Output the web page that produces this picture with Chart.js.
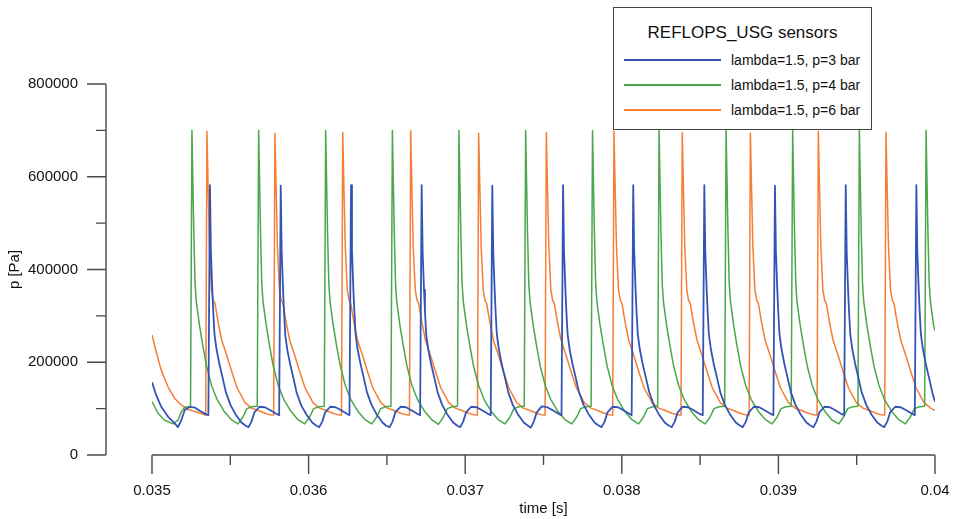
<!DOCTYPE html>
<html>
<head>
<meta charset="utf-8">
<script src="https://cdn.jsdelivr.net/npm/chart.js@4.4.1/dist/chart.umd.min.js"></script>
<style>
html,body{margin:0;padding:0;background:#fff;overflow:hidden;}
#wrap{position:relative;width:957px;height:519px;}
#c{display:block;}
#legend{position:absolute;left:613px;top:7px;width:257px;height:121px;border:1.5px solid #444;background:#fff;
  font-family:"Liberation Sans",Arial,Helvetica,sans-serif;color:#111;z-index:2;}
#legend .ttl{position:absolute;left:0;width:100%;top:13px;height:24px;line-height:24px;text-align:center;font-size:17px;}
#legend .row{position:absolute;left:0;width:100%;height:18px;}
#legend .sw{position:absolute;left:10px;width:97px;top:8px;height:1.5px;}
#legend .lb{position:absolute;left:117px;top:0;height:18px;line-height:18px;font-size:14px;white-space:nowrap;}
</style>
</head>
<body>
<div id="wrap">
  <canvas id="c"></canvas>
  <div id="legend"></div>
</div>
<script>
// ---------------- data (time in s, pressure in Pa) ----------------
const seriesLabels = ['lambda=1.5, p=3 bar', 'lambda=1.5, p=4 bar', 'lambda=1.5, p=6 bar'];
const legendTitle = 'REFLOPS_USG sensors';

const blueT = [
0.035000,0.035027,0.035059,0.035102,0.035145,0.035166,0.035187,0.035209,0.035241,0.035275,0.035307,0.035349,
0.035360,0.035370,0.035376,0.035385,0.035391,0.035399,0.035412,0.035431,0.035450,0.035472,0.035501,0.035533,0.035571,0.035594,0.035616,0.035635,0.035654,0.035686,0.035721,0.035753,0.035798,
0.035812,0.035822,0.035828,0.035837,0.035843,0.035851,0.035864,0.035883,0.035902,0.035924,0.035953,0.035985,0.036023,0.036046,0.036068,0.036087,0.036106,0.036138,0.036173,0.036205,0.036250,
0.036261,0.036271,0.036277,0.036286,0.036292,0.036300,0.036313,0.036332,0.036351,0.036373,0.036402,0.036434,0.036472,0.036495,0.036517,0.036536,0.036555,0.036587,0.036622,0.036654,0.036699,
0.036712,0.036722,0.036728,0.036737,0.036743,0.036751,0.036764,0.036783,0.036802,0.036824,0.036853,0.036885,0.036923,0.036946,0.036968,0.036987,0.037006,0.037038,0.037073,0.037105,0.037150,
0.037163,0.037173,0.037179,0.037188,0.037194,0.037202,0.037215,0.037234,0.037253,0.037275,0.037304,0.037336,0.037374,0.037397,0.037419,0.037438,0.037457,0.037489,0.037524,0.037556,0.037601,
0.037615,0.037625,0.037631,0.037640,0.037646,0.037654,0.037667,0.037686,0.037705,0.037727,0.037756,0.037788,0.037826,0.037849,0.037871,0.037890,0.037909,0.037941,0.037976,0.038008,0.038053,
0.038063,0.038073,0.038079,0.038088,0.038094,0.038102,0.038115,0.038134,0.038153,0.038175,0.038204,0.038236,0.038274,0.038297,0.038319,0.038338,0.038357,0.038389,0.038424,0.038456,0.038501,
0.038517,0.038527,0.038533,0.038542,0.038548,0.038556,0.038569,0.038588,0.038607,0.038629,0.038658,0.038690,0.038728,0.038751,0.038773,0.038792,0.038811,0.038843,0.038878,0.038910,0.038955,
0.038968,0.038978,0.038984,0.038993,0.038999,0.039007,0.039020,0.039039,0.039058,0.039080,0.039109,0.039141,0.039179,0.039202,0.039224,0.039243,0.039262,0.039294,0.039329,0.039361,0.039406,
0.039420,0.039430,0.039436,0.039445,0.039451,0.039459,0.039472,0.039491,0.039510,0.039532,0.039561,0.039593,0.039631,0.039654,0.039676,0.039695,0.039714,0.039746,0.039781,0.039813,0.039858,
0.039871,0.039881,0.039887,0.039896,0.039902,0.039910,0.039923,0.039942,0.039961,0.039983,0.040000
];
const blueP = [
157000,129000,104000,83000,68000,60000,75000,97000,104000,102000,95000,87000,
86000,582000,440000,356000,310000,260000,228000,195000,168000,135000,108000,88000,70000,64000,60000,72000,92000,104000,103000,97000,88000,
86000,581000,440000,355000,310000,258000,227000,195000,167000,134000,107000,88000,70000,64000,60000,72000,92000,104000,103000,97000,88000,
86000,582000,441000,356000,311000,260000,228000,196000,168000,135000,108000,88000,70000,63000,60000,72000,93000,104000,103000,97000,88000,
86000,582000,440000,356000,310000,259000,228000,195000,168000,135000,108000,88000,70000,64000,60000,72000,92000,104000,103000,97000,88000,
86000,581000,440000,356000,310000,260000,228000,195000,168000,135000,108000,88000,70000,64000,59000,72000,92000,105000,103000,97000,88000,
86000,582000,440000,356000,310000,260000,227000,195000,168000,135000,108000,88000,70000,64000,60000,72000,92000,104000,103000,97000,88000,
86000,582000,440000,356000,310000,260000,228000,195000,168000,136000,108000,88000,70000,64000,60000,72000,92000,104000,103000,97000,88000,
86000,582000,440000,356000,310000,260000,228000,195000,168000,135000,108000,88000,70000,64000,60000,72000,92000,104000,103000,97000,88000,
86000,581000,440000,356000,310000,260000,228000,195000,168000,135000,108000,88000,70000,64000,60000,72000,92000,104000,103000,97000,88000,
86000,582000,440000,356000,310000,260000,228000,195000,168000,135000,108000,88000,70000,64000,60000,72000,92000,104000,103000,97000,88000,
86000,582000,440000,356000,310000,260000,228000,195000,168000,135000,115000
];

const greenT = [
0.035000,0.035038,0.035081,0.035134,0.035166,0.035187,0.035209,0.035241,
0.035246,0.035255,0.035267,0.035275,0.035283,0.035303,0.035325,0.035348,0.035380,0.035415,0.035459,0.035504,0.035549,0.035581,0.035606,0.035638,
0.035672,0.035681,0.035693,0.035701,0.035709,0.035729,0.035751,0.035774,0.035806,0.035841,0.035885,0.035930,0.035975,0.036007,0.036032,0.036064,
0.036100,0.036109,0.036121,0.036129,0.036137,0.036157,0.036179,0.036202,0.036234,0.036269,0.036313,0.036358,0.036403,0.036435,0.036460,0.036492,
0.036526,0.036535,0.036547,0.036555,0.036563,0.036583,0.036605,0.036628,0.036660,0.036695,0.036739,0.036784,0.036829,0.036861,0.036886,0.036918,
0.036951,0.036960,0.036972,0.036980,0.036988,0.037008,0.037030,0.037053,0.037085,0.037120,0.037164,0.037209,0.037254,0.037286,0.037311,0.037343,
0.037377,0.037386,0.037398,0.037406,0.037414,0.037434,0.037456,0.037479,0.037511,0.037546,0.037590,0.037635,0.037680,0.037712,0.037737,0.037769,
0.037804,0.037813,0.037825,0.037833,0.037841,0.037861,0.037883,0.037906,0.037938,0.037973,0.038017,0.038062,0.038107,0.038139,0.038164,0.038196,
0.038229,0.038238,0.038250,0.038258,0.038266,0.038286,0.038308,0.038331,0.038363,0.038398,0.038442,0.038487,0.038532,0.038564,0.038589,0.038621,
0.038657,0.038666,0.038678,0.038686,0.038694,0.038714,0.038736,0.038759,0.038791,0.038826,0.038870,0.038915,0.038960,0.038992,0.039017,0.039049,
0.039082,0.039091,0.039103,0.039111,0.039119,0.039139,0.039161,0.039184,0.039216,0.039251,0.039295,0.039340,0.039385,0.039417,0.039442,0.039474,
0.039508,0.039517,0.039529,0.039537,0.039545,0.039565,0.039587,0.039610,0.039642,0.039677,0.039721,0.039766,0.039811,0.039843,0.039868,0.039900,
0.039934,0.039943,0.039955,0.039963,0.039971,0.039991,0.040000
];
const greenP = [
115000,90000,75000,67000,75000,93000,103000,104000,
105000,700000,480000,370000,330000,280000,235000,192000,150000,120000,95000,77000,67000,82000,100000,104000,
105000,700000,480000,370000,330000,281000,235000,192000,150000,120000,95000,77000,67000,82000,100000,104000,
105000,700000,480000,371000,330000,280000,235000,193000,150000,120000,95000,77000,67000,82000,100000,104000,
105000,700000,480000,370000,330000,280000,235000,192000,150000,120000,95000,77000,66000,82000,100000,104000,
105000,700000,481000,370000,330000,280000,235000,192000,151000,120000,95000,77000,67000,82000,100000,104000,
105000,700000,480000,370000,330000,280000,235000,192000,150000,120000,95000,77000,67000,82000,100000,104000,
105000,700000,480000,370000,330000,280000,236000,192000,150000,120000,95000,77000,67000,82000,100000,104000,
105000,700000,480000,370000,330000,280000,235000,192000,150000,120000,95000,77000,67000,82000,100000,104000,
105000,700000,480000,370000,331000,280000,235000,192000,150000,120000,95000,77000,67000,82000,100000,104000,
105000,700000,480000,370000,330000,280000,235000,192000,150000,120000,95000,76000,67000,82000,100000,104000,
105000,700000,480000,370000,330000,280000,235000,192000,150000,120000,95000,77000,67000,82000,100000,104000,
105000,700000,480000,370000,330000,280000,268000
];

const orangeT = [
0.035000,0.035027,0.035059,0.035102,0.035145,0.035187,0.035230,0.035290,
0.035343,0.035351,0.035357,0.035367,0.035380,0.035391,0.035402,0.035423,0.035445,0.035477,0.035509,0.035543,0.035594,0.035636,0.035679,0.035721,0.035751,
0.035777,0.035785,0.035791,0.035801,0.035814,0.035825,0.035836,0.035857,0.035879,0.035911,0.035943,0.035977,0.036028,0.036070,0.036113,0.036155,0.036185,
0.036210,0.036218,0.036224,0.036234,0.036247,0.036258,0.036269,0.036290,0.036312,0.036344,0.036376,0.036410,0.036461,0.036503,0.036546,0.036588,0.036618,
0.036644,0.036652,0.036658,0.036668,0.036681,0.036692,0.036703,0.036724,0.036746,0.036778,0.036810,0.036844,0.036895,0.036937,0.036980,0.037022,0.037052,
0.037078,0.037086,0.037092,0.037102,0.037115,0.037126,0.037137,0.037158,0.037180,0.037212,0.037244,0.037278,0.037329,0.037371,0.037414,0.037456,0.037486,
0.037510,0.037518,0.037524,0.037534,0.037547,0.037558,0.037569,0.037590,0.037612,0.037644,0.037676,0.037710,0.037761,0.037803,0.037846,0.037888,0.037918,
0.037942,0.037950,0.037956,0.037966,0.037979,0.037990,0.038001,0.038022,0.038044,0.038076,0.038108,0.038142,0.038193,0.038235,0.038278,0.038320,0.038350,
0.038378,0.038386,0.038392,0.038402,0.038415,0.038426,0.038437,0.038458,0.038480,0.038512,0.038544,0.038578,0.038629,0.038671,0.038714,0.038756,0.038786,
0.038813,0.038821,0.038827,0.038837,0.038850,0.038861,0.038872,0.038893,0.038915,0.038947,0.038979,0.039013,0.039064,0.039106,0.039149,0.039191,0.039221,
0.039247,0.039255,0.039261,0.039271,0.039284,0.039295,0.039306,0.039327,0.039349,0.039381,0.039413,0.039447,0.039498,0.039540,0.039583,0.039625,0.039655,
0.039679,0.039687,0.039693,0.039703,0.039716,0.039727,0.039738,0.039759,0.039781,0.039813,0.039845,0.039879,0.039930,0.039972,0.040000
];
const orangeP = [
259000,222000,183000,147000,122000,108000,98000,92000,
86000,698000,600000,450000,356000,334000,327000,285000,248000,215000,180000,145000,113000,101000,96000,90000,87000,
86000,694000,600000,450000,356000,334000,327000,285000,248000,215000,180000,145000,113000,101000,96000,90000,87000,
86000,696000,600000,450000,356000,334000,327000,285000,248000,215000,180000,145000,113000,101000,96000,90000,87000,
86000,699000,600000,450000,356000,334000,327000,285000,248000,215000,180000,145000,113000,101000,96000,90000,87000,
86000,694000,600000,450000,356000,334000,327000,285000,248000,215000,180000,145000,113000,101000,96000,90000,87000,
86000,695000,600000,450000,356000,334000,327000,285000,248000,215000,180000,145000,113000,101000,96000,90000,87000,
86000,698000,600000,450000,356000,334000,327000,285000,248000,215000,180000,145000,113000,101000,96000,90000,87000,
86000,695000,600000,450000,356000,334000,327000,285000,248000,215000,180000,145000,113000,101000,96000,90000,87000,
86000,694000,600000,450000,356000,334000,327000,285000,248000,215000,180000,145000,113000,101000,96000,90000,87000,
86000,698000,600000,450000,356000,334000,327000,285000,248000,215000,180000,145000,113000,101000,96000,90000,87000,
86000,696000,600000,450000,356000,334000,327000,285000,248000,215000,180000,145000,113000,101000,96000
];

const xMajorTicks = [0.035, 0.036, 0.037, 0.038, 0.039, 0.040];
const xMinorTicks = [0.0355, 0.0365, 0.0375, 0.0385, 0.0395];
const xTickLabels = ['0.035', '0.036', '0.037', '0.038', '0.039', '0.04'];
const yMajorTicks = [0, 200000, 400000, 600000, 800000];
const yMinorTicks = [100000, 300000, 500000, 700000];
const yTickLabels = ['0', '200000', '400000', '600000', '800000'];
const xTitle = 'time [s]';
const yTitle = 'p [Pa]';

// ---------------- build ----------------
function pts(t, p) {
  const n = Math.min(t.length, p.length);
  const out = [];
  for (let i = 0; i < n; i++) out.push({x: t[i], y: p[i]});
  return out;
}
const colors = ['#3354b6', '#4aa74a', '#f67e34'];
const widths = [1.8, 1.5, 1.5];

const FONT = '"Liberation Sans", Arial, Helvetica, sans-serif';
Chart.defaults.font.family = FONT;
Chart.defaults.font.size = 15;
Chart.defaults.color = '#111';

const axesPlugin = {
  id: 'offsetAxes',
  afterDraw(chart) {
    const c = chart.ctx, xs = chart.scales.x, ys = chart.scales.y;
    c.save();
    c.strokeStyle = '#4a4a4a';
    c.lineWidth = 1.4;
    c.beginPath();
    const ax = xs.left - 46;
    c.moveTo(ax, ys.getPixelForValue(yMajorTicks[0]));
    c.lineTo(ax, ys.getPixelForValue(yMajorTicks[yMajorTicks.length - 1]));
    yMajorTicks.forEach(v => { const py = ys.getPixelForValue(v); c.moveTo(ax - 19, py); c.lineTo(ax, py); });
    yMinorTicks.forEach(v => { const py = ys.getPixelForValue(v); c.moveTo(ax - 10, py); c.lineTo(ax, py); });
    const ay = ys.getPixelForValue(0);
    c.moveTo(xs.getPixelForValue(xMajorTicks[0]), ay);
    c.lineTo(xs.getPixelForValue(xMajorTicks[xMajorTicks.length - 1]), ay);
    xMajorTicks.forEach(v => { const px = xs.getPixelForValue(v); c.moveTo(px, ay); c.lineTo(px, ay + 19); });
    xMinorTicks.forEach(v => { const px = xs.getPixelForValue(v); c.moveTo(px, ay); c.lineTo(px, ay + 10); });
    c.stroke();
    c.restore();
  }
};

const hiddenTicks = len => ({display: true, drawOnChartArea: false, drawTicks: true, tickLength: len, tickColor: 'rgba(0,0,0,0)', color: 'rgba(0,0,0,0)'});

new Chart(document.getElementById('c'), {
  type: 'line',
  data: {
    datasets: [
      {label: seriesLabels[0], data: pts(blueT, blueP), borderColor: colors[0], borderWidth: widths[0]},
      {label: seriesLabels[1], data: pts(greenT, greenP), borderColor: colors[1], borderWidth: widths[1]},
      {label: seriesLabels[2], data: pts(orangeT, orangeP), borderColor: colors[2], borderWidth: widths[2]}
    ]
  },
  options: {
    responsive: true,
    maintainAspectRatio: false,
    animation: false,
    events: [],
    layout: {padding: {top: 84, right: 22, bottom: 0, left: 0}},
    elements: {point: {radius: 0}, line: {tension: 0, fill: false, borderJoinStyle: 'round'}},
    plugins: {legend: {display: false}, tooltip: {enabled: false}},
    scales: {
      x: {
        type: 'linear', min: 0.035, max: 0.04,
        grid: hiddenTicks(27), border: {display: false},
        afterBuildTicks: s => { s.ticks = xMajorTicks.map(v => ({value: v})); },
        afterFit: s => { s.height = 64; },
        ticks: {padding: 0, maxRotation: 0, autoSkip: false, callback: (v, i) => xTickLabels[i]},
        title: {display: true, text: xTitle, padding: {top: 0, bottom: 1}, font: {size: 15}}
      },
      y: {
        type: 'linear', min: 0, max: 800000,
        grid: hiddenTicks(74), border: {display: false},
        afterBuildTicks: s => { s.ticks = yMajorTicks.map(v => ({value: v})); },
        afterFit: s => { s.width = 152; },
        ticks: {padding: 0, autoSkip: false, callback: (v, i) => yTickLabels[i]},
        title: {display: true, text: yTitle, padding: {top: 6, bottom: 0}, font: {size: 15}}
      }
    }
  },
  plugins: [axesPlugin]
});

// ---------------- legend (HTML) ----------------
const lg = document.getElementById('legend');
const t = document.createElement('div'); t.className = 'ttl'; t.textContent = legendTitle; lg.appendChild(t);
const rowTops = [43, 68, 93];
seriesLabels.forEach((lab, i) => {
  const r = document.createElement('div'); r.className = 'row'; r.style.top = rowTops[i] + 'px';
  const sw = document.createElement('div'); sw.className = 'sw'; sw.style.background = colors[i];
  const tx = document.createElement('div'); tx.className = 'lb'; tx.textContent = lab;
  r.appendChild(sw); r.appendChild(tx); lg.appendChild(r);
});
</script>
</body>
</html>
